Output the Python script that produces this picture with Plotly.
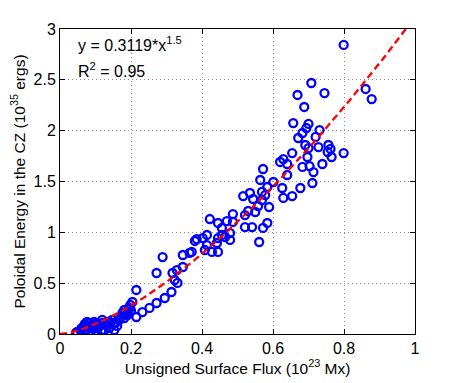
import numpy as np
import plotly.graph_objects as go

# flux (1e23 Mx) and poloidal energy (1e35 erg)
flux = [
    0.799, 0.708, 0.669, 0.745, 0.688, 0.861, 0.878, 0.657, 0.700, 0.694,
    0.731, 0.683, 0.671, 0.720, 0.691, 0.700, 0.728, 0.756, 0.762, 0.754,
    0.765, 0.799, 0.697, 0.654, 0.620, 0.629, 0.640, 0.683, 0.703, 0.739,
    0.640, 0.714, 0.711, 0.677, 0.654, 0.626, 0.629, 0.601, 0.572, 0.564,
    0.584, 0.569, 0.578, 0.569, 0.544, 0.535, 0.516, 0.558, 0.589, 0.550,
    0.530, 0.521, 0.487, 0.487, 0.470, 0.445, 0.422, 0.456, 0.479, 0.465,
    0.445, 0.414, 0.385, 0.402, 0.521, 0.541, 0.572, 0.584, 0.561, 0.442,
    0.380, 0.456, 0.479, 0.414, 0.408, 0.428, 0.445, 0.371, 0.346, 0.365,
    0.289, 0.272, 0.317, 0.329, 0.346, 0.323, 0.331, 0.314, 0.295, 0.272,
    0.252, 0.232, 0.215, 0.215, 0.195, 0.181, 0.176, 0.159, 0.139, 0.119,
    0.105, 0.091, 0.076, 0.062, 0.048, 0.102, 0.133, 0.167, 0.147, 0.082,
    0.074, 0.045, 0.110, 0.125, 0.153, 0.139, 0.161, 0.181, 0.190, 0.198,
    0.204, 0.187, 0.096, 0.068, 0.088, 0.116, 0.059, 0.060, 0.080, 0.090,
    0.100, 0.120, 0.130, 0.140, 0.150, 0.170, 0.180, 0.190, 0.200, 0.195,
    0.110, 0.070,
]
energy = [
    2.843, 2.469, 2.351, 2.370, 2.233, 2.410, 2.311, 2.075, 2.066, 2.026,
    2.006, 1.977, 1.928, 1.938, 1.859, 1.829, 1.839, 1.859, 1.820, 1.790,
    1.741, 1.780, 1.741, 1.780, 1.692, 1.721, 1.672, 1.643, 1.652, 1.672,
    1.564, 1.593, 1.485, 1.436, 1.357, 1.436, 1.338, 1.495, 1.623, 1.515,
    1.446, 1.397, 1.367, 1.318, 1.328, 1.387, 1.357, 1.259, 1.249, 1.200,
    1.210, 1.170, 1.180, 1.102, 1.111, 1.092, 1.131, 1.043, 0.993, 0.954,
    0.944, 0.974, 0.934, 0.944, 1.052, 1.052, 1.043, 1.092, 0.905, 0.895,
    0.915, 0.974, 0.925, 0.875, 0.826, 0.807, 0.807, 0.807, 0.777, 0.797,
    0.757, 0.600, 0.600, 0.629, 0.659, 0.531, 0.502, 0.413, 0.354, 0.305,
    0.256, 0.216, 0.433, 0.167, 0.256, 0.236, 0.207, 0.118, 0.118, 0.138,
    0.059, 0.059, 0.118, 0.059, 0.020, 0.020, 0.118, 0.138, 0.138, 0.108,
    0.039, 0.010, 0.089, 0.039, 0.039, 0.059, 0.079, 0.157, 0.187, 0.285,
    0.315, 0.216, 0.118, 0.079, 0.030, 0.030, 0.030, 0.050, 0.070, 0.090,
    0.100, 0.110, 0.090, 0.120, 0.100, 0.160, 0.190, 0.210, 0.230, 0.250,
    0.070, 0.100,
]

fit_coef = 3.119
fit_exp = 1.5
x_fit = np.linspace(0, 1, 201)
y_fit = fit_coef * x_fit ** fit_exp

x_ticks = [0, 0.2, 0.4, 0.6, 0.8, 1]
x_labels = ['0', '0.2', '0.4', '0.6', '0.8', '1']
y_ticks = [0, 0.5, 1, 1.5, 2, 2.5, 3]
y_labels = ['0', '0.5', '1', '1.5', '2', '2.5', '3']

fig = go.Figure()
fig.add_trace(go.Scatter(
    x=flux, y=energy, mode='markers',
    marker=dict(symbol='circle-open', size=8, color='#0000ff',
                line=dict(width=2.3, color='#0000ff')),
    showlegend=False,
))
fig.add_trace(go.Scatter(
    x=x_fit, y=y_fit, mode='lines',
    line=dict(color='#ff0000', width=2.3, dash='7px,4px'),
    showlegend=False,
))

axis_common = dict(
    showline=True, mirror='ticks', linecolor='black', linewidth=1,
    ticks='inside', ticklen=5, tickcolor='black',
    showgrid=True, gridcolor='#8c8c8c', griddash='1px,3px', gridwidth=1,
    zeroline=False, automargin=False,
    tickfont=dict(size=16, color='black'),
)

# page body has an 8px margin, so the figure is shrunk and shifted to match
fig.update_layout(
    width=450, height=375,
    paper_bgcolor='white', plot_bgcolor='white',
    font=dict(family='Liberation Sans, Arial, sans-serif', color='black', size=15),
    margin=dict(l=52, r=43, t=21, b=49),
    xaxis=dict(range=[0, 1], tickvals=x_ticks, ticktext=x_labels,
               title=dict(text='Unsigned Surface Flux (10<sup>23</sup> Mx)',
                          font=dict(size=15.5), standoff=6),
               **axis_common),
    yaxis=dict(range=[0, 3], tickvals=y_ticks, ticktext=y_labels,
               title=dict(text='Poloidal Energy in the CZ (10<sup>35</sup> ergs)',
                          font=dict(size=15.5), standoff=4),
               **axis_common),
    annotations=[
        dict(x=0.045, y=2.85, xref='x', yref='y', xanchor='left', yanchor='middle',
             text='y = 0.3119*x<sup>1.5</sup>', showarrow=False, font=dict(size=16)),
        dict(x=0.045, y=2.60, xref='x', yref='y', xanchor='left', yanchor='middle',
             text='R<sup>2</sup> = 0.95', showarrow=False, font=dict(size=16)),
    ],
)

fig.write_html("out.html")
